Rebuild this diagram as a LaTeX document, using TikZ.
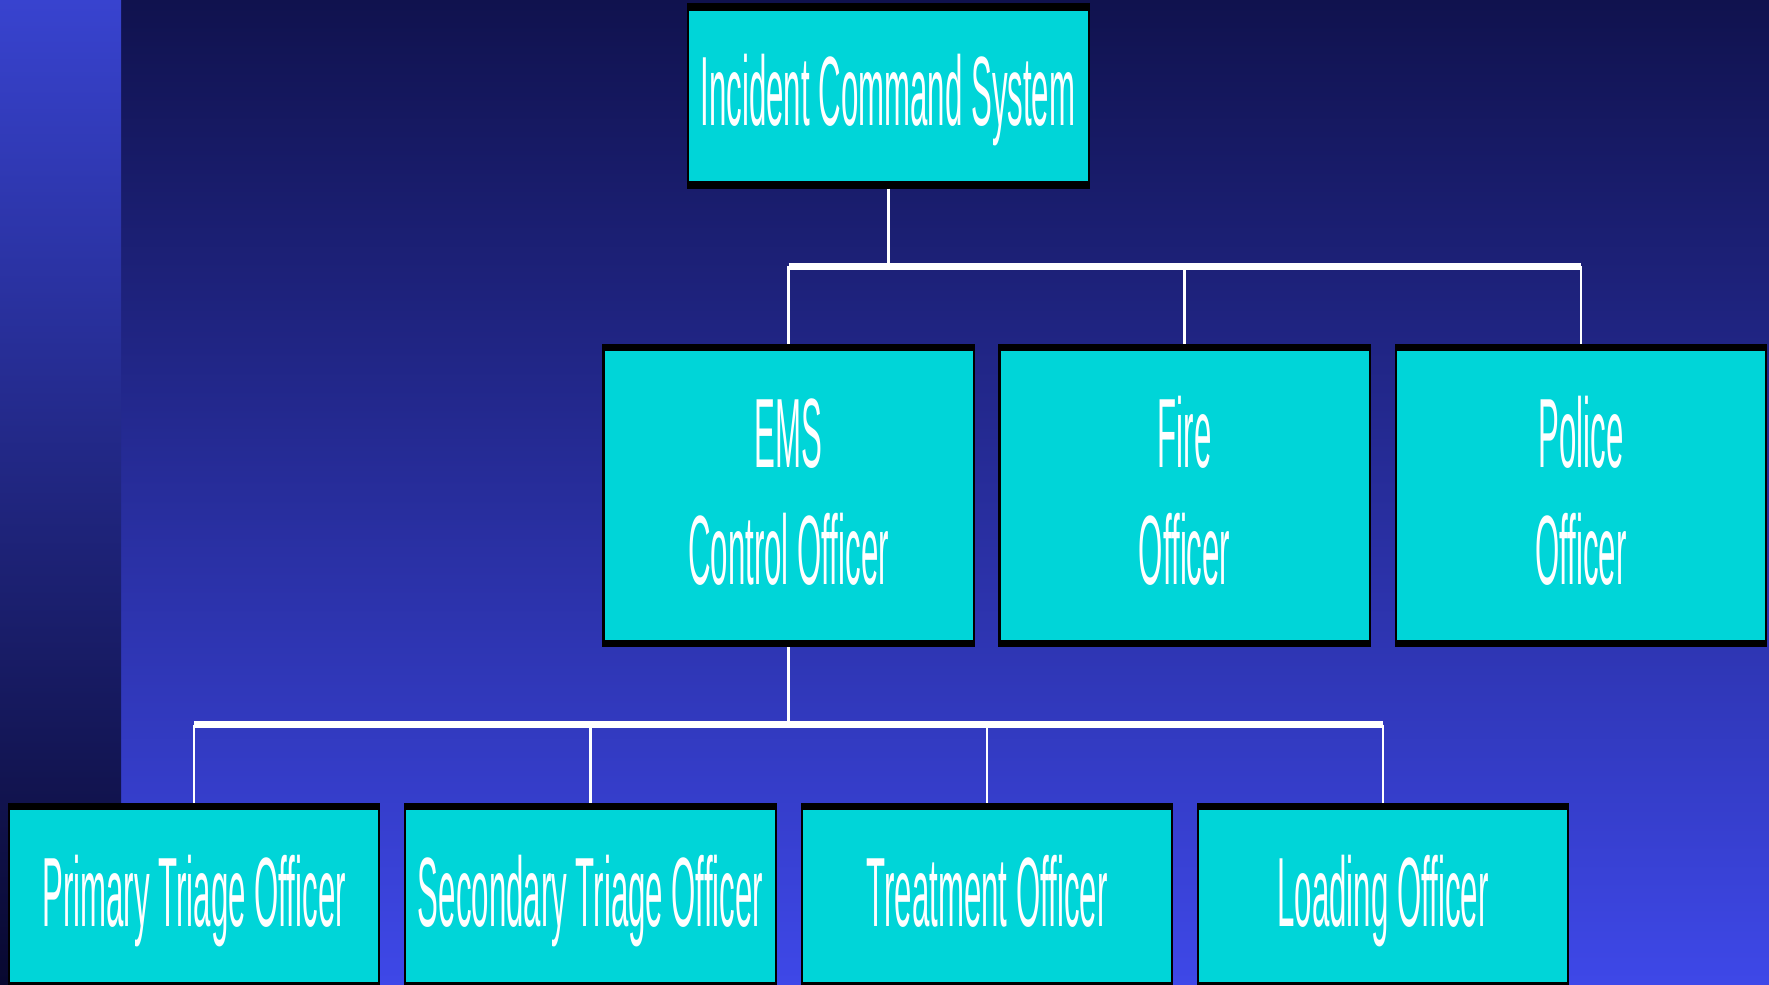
\documentclass[tikz,border=0pt]{standalone}
\usepackage{fontspec}
\setmainfont{Liberation Sans}
\usepackage{graphicx}
\definecolor{boxcyan}{HTML}{00D5D8}
\definecolor{bgtop}{HTML}{10124E}
\definecolor{bgbot}{HTML}{3E48E8}
\definecolor{bartop}{HTML}{3843CF}
\definecolor{barbot}{HTML}{080830}
\newcommand{\condtxt}[1]{\scalebox{0.317}[1]{\fontsize{28}{33}\selectfont #1}}
\tikzset{
  orgbox/.style={rectangle, fill=boxcyan, draw=black, line width=0.6pt, inner sep=0pt,
    path picture={
      \fill[black] (path picture bounding box.north west) rectangle ([yshift=-0.065cm]path picture bounding box.north east);
      \fill[black] (path picture bounding box.south west) rectangle ([yshift=0.065cm]path picture bounding box.south east);
    }},
  topbox/.style={orgbox, minimum width=4.01cm, minimum height=1.83cm},
  midbox/.style={orgbox, minimum width=3.70cm, minimum height=3.01cm},
  lowbox/.style={orgbox, minimum width=3.70cm, minimum height=1.84cm},
  lbl/.style={anchor=base, text=white, inner sep=0pt},
  vline/.style={draw=white, line width=0.7pt},
  hbar/.style={draw=white, line width=1.8pt}
}
\begin{document}
\begin{tikzpicture}[x=0.01cm, y=-0.01cm]
\useasboundingbox (0,0) rectangle (1769,985);
% background
\shade[top color=bgtop, bottom color=bgbot] (121,0) rectangle (1769,985);
\shade[top color=bartop, bottom color=barbot] (0,0) rectangle (121,985);

% boxes
\node[topbox] (ics) at (888.5,96) {};
\node[midbox] (ems) at (788.6,495.5) {};
\node[midbox] (fire) at (1184.6,495.5) {};
\node[midbox] (pol) at (1581,495.5) {};
\node[lowbox] (prim) at (194,896) {};
\node[lowbox] (sec) at (590.5,896) {};
\node[lowbox] (treat) at (987,896) {};
\node[lowbox] (load) at (1383,896) {};

% texts
\node[lbl] (icst) at (888,126) {\condtxt{Incident Command System}};
\node[lbl] (emst1) at (788.6,467) {\condtxt{EMS}};
\node[lbl] (emst2) at (788.6,584) {\condtxt{Control Officer}};
\node[lbl] (firet1) at (1184.6,467) {\condtxt{Fire}};
\node[lbl] (firet2) at (1184.6,584) {\condtxt{Officer}};
\node[lbl] (polt1) at (1581,467) {\condtxt{Police}};
\node[lbl] (polt2) at (1581,584) {\condtxt{Officer}};
\node[lbl] (primt) at (194,926) {\condtxt{Primary Triage Officer}};
\node[lbl] (sect) at (590.5,926) {\condtxt{Secondary Triage Officer}};
\node[lbl] (treatt) at (987,926) {\condtxt{Treatment Officer}};
\node[lbl] (loadt) at (1383,926) {\condtxt{Loading Officer}};

% connectors level 1
\coordinate (j1) at (888.5,266.5);
\draw[vline] (ics.south) -- (j1);
\draw[hbar] (ems.north |- j1) -- (pol.north |- j1);
\draw[vline] (ems.north |- j1) -- (ems.north);
\draw[vline] (fire.north |- j1) -- (fire.north);
\draw[vline] (pol.north |- j1) -- (pol.north);

% connectors level 2
\coordinate (j2) at (788.6,724.5);
\draw[vline] (ems.south) -- (j2);
\draw[hbar] (prim.north |- j2) -- (load.north |- j2);
\draw[vline] (prim.north |- j2) -- (prim.north);
\draw[vline] (sec.north |- j2) -- (sec.north);
\draw[vline] (treat.north |- j2) -- (treat.north);
\draw[vline] (load.north |- j2) -- (load.north);
\end{tikzpicture}
\end{document}
